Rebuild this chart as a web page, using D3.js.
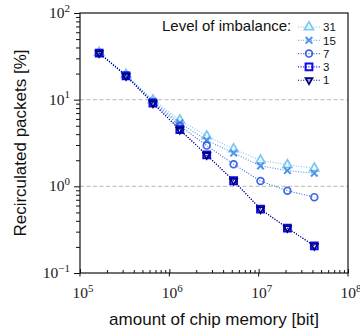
<!DOCTYPE html>
<html>
<head>
<meta charset="utf-8">
<script src="https://cdn.jsdelivr.net/npm/d3@7"></script>
<style>
  html, body { margin: 0; padding: 0; background: #fff; }
  svg { display: block; }
</style>
</head>
<body>
<svg id="chart" width="360" height="335"></svg>
<script>
// Memory sizes: 163840 bits doubled eight times
const memoryBits = [163840, 327680, 655360, 1310720, 2621440, 5242880, 10485760, 20971520, 41943040];

// Recirculated packets [%] per level of imbalance
const imbalanceLevels = ["31", "15", "7", "3", "1"];
const recirc31 = [35.0, 19.5, 9.9, 5.8, 3.8, 2.7, 2.0, 1.77, 1.62];
const recirc15 = [34.8, 19.2, 9.6, 5.4, 3.4, 2.42, 1.72, 1.52, 1.42];
const recirc7  = [34.6, 19.0, 9.4, 5.0, 2.95, 1.8, 1.15, 0.89, 0.75];
const recirc3  = [34.5, 18.8, 9.1, 4.5, 2.3, 1.16, 0.545, 0.33, 0.206];
const recirc1  = [34.5, 18.8, 9.1, 4.5, 2.3, 1.16, 0.545, 0.33, 0.206];

const xDecades = [1e5, 1e6, 1e7, 1e8];
const yDecades = [1e-1, 1e0, 1e1, 1e2];
const xExponents = ["5", "6", "7", "8"];
const yExponents = ["−1", "0", "1", "2"];

const seriesValues = [recirc31, recirc15, recirc7, recirc3, recirc1];
const seriesColors = ["#7fc8f2", "#4f94ea", "#3a66e0", "#0b0bea", "#00007e"];
const seriesMarkers = ["triangleUp", "cross", "circle", "square", "triangleDown"];

const svg = d3.select("#chart");
const plotL = 80, plotR = 348, plotT = 13, plotB = 273;

const x = d3.scaleLog().domain([1e5, 1e8]).range([plotL, plotR]);
const y = d3.scaleLog().domain([0.1, 100]).range([plotB, plotT]);

// Minor ticks 2..9 within each decade
function minorTicks(decades) {
  const out = [];
  for (let i = 0; i < decades.length - 1; i++) {
    for (let k = 2; k <= 9; k++) out.push(decades[i] * k);
  }
  return out;
}

// Horizontal dashed grid at inner decades
svg.append("g").selectAll("line")
  .data([1e0, 1e1])
  .join("line")
  .attr("x1", plotL).attr("x2", plotR)
  .attr("y1", d => y(d)).attr("y2", d => y(d))
  .attr("stroke", "#c4c4c4")
  .attr("stroke-width", 1.1)
  .attr("stroke-dasharray", "4,2.5");

// Axis ticks
const xMinor = d3.axisBottom(x).tickValues(minorTicks(xDecades)).tickSize(-3).tickFormat("");
const xMajor = d3.axisBottom(x).tickValues(xDecades).tickSize(-4).tickFormat("");
const yMinor = d3.axisLeft(y).tickValues(minorTicks(yDecades)).tickSize(4).tickFormat("");
const yMajor = d3.axisLeft(y).tickValues(yDecades).tickSize(6).tickFormat("");

[xMinor, xMajor].forEach(ax => {
  const g = svg.append("g").attr("transform", `translate(0,${plotB})`).call(ax);
  g.select(".domain").remove();
  g.selectAll("line").attr("stroke", "#111").attr("stroke-width", 1);
});
svg.append("g").attr("transform", `translate(0,${plotB})`)
  .selectAll("line").data(xDecades).join("line")
  .attr("x1", d => x(d)).attr("x2", d => x(d))
  .attr("y1", 0).attr("y2", 3.5)
  .attr("stroke", "#111").attr("stroke-width", 1);
[yMinor, yMajor].forEach(ax => {
  const g = svg.append("g").attr("transform", `translate(${plotL},0)`).call(ax);
  g.select(".domain").remove();
  g.selectAll("line").attr("stroke", "#111").attr("stroke-width", 1);
});

// Frame
svg.append("rect")
  .attr("x", plotL).attr("y", plotT)
  .attr("width", plotR - plotL).attr("height", plotB - plotT)
  .attr("fill", "none").attr("stroke", "#111").attr("stroke-width", 1.2);

// Tick labels with superscript exponents
const serif = "'Liberation Serif', 'DejaVu Serif', serif";
const xl = svg.append("g").selectAll("text").data(xDecades).join("text")
  .attr("x", d => x(d) + 3).attr("y", 298)
  .attr("text-anchor", "middle")
  .attr("font-family", serif).attr("font-size", 15.5).attr("fill", "#222");
xl.append("tspan").text("10");
xl.append("tspan").attr("dy", -6.5).attr("font-size", 11).text((d, i) => xExponents[i]);

const yl = svg.append("g").selectAll("text").data(yDecades).join("text")
  .attr("x", 70).attr("y", d => y(d) + 5)
  .attr("text-anchor", "end")
  .attr("font-family", serif).attr("font-size", 15.5).attr("fill", "#222");
yl.append("tspan").text("10");
yl.append("tspan").attr("dy", -6.5).attr("font-size", 11).text((d, i) => yExponents[i]);

// Axis titles
const sans = "'Liberation Sans', Arial, sans-serif";
svg.append("text")
  .attr("x", (plotL + plotR) / 2).attr("y", 325)
  .attr("text-anchor", "middle")
  .attr("font-family", sans).attr("font-size", 17).attr("fill", "#111")
  .text("amount of chip memory [bit]");
svg.append("text")
  .attr("transform", `translate(26,${(plotT + plotB) / 2}) rotate(-90)`)
  .attr("text-anchor", "middle")
  .attr("font-family", sans).attr("font-size", 17).attr("fill", "#111")
  .text("Recirculated packets [%]");

// Marker drawing
function drawMarker(g, kind, color) {
  if (kind === "triangleUp") {
    g.append("path").attr("d", d3.symbol(d3.symbolTriangle, 34)())
      .attr("fill", "none").attr("stroke", color).attr("stroke-width", 1.8);
  } else if (kind === "triangleDown") {
    g.append("path").attr("d", d3.symbol(d3.symbolTriangle, 20)())
      .attr("transform", "rotate(180)")
      .attr("fill", "none").attr("stroke", color).attr("stroke-width", 1.8);
  } else if (kind === "cross") {
    g.append("path").attr("d", "M-3.3,-3.3L3.3,3.3M-3.3,3.3L3.3,-3.3")
      .attr("fill", "none").attr("stroke", color).attr("stroke-width", 2);
  } else if (kind === "circle") {
    g.append("circle").attr("r", 3.4)
      .attr("fill", "none").attr("stroke", color).attr("stroke-width", 1.7);
  } else if (kind === "square") {
    g.append("path").attr("d", d3.symbol(d3.symbolSquare, 46)())
      .attr("fill", "none").attr("stroke", color).attr("stroke-width", 2);
  }
}

const line = d3.line().x(d => x(d[0])).y(d => y(d[1]));

seriesValues.forEach((vals, si) => {
  const pts = memoryBits.map((m, i) => [m, vals[i]]);
  const g = svg.append("g");
  g.append("path").datum(pts)
    .attr("d", line)
    .attr("fill", "none")
    .attr("stroke", seriesColors[si])
    .attr("stroke-width", 1.1)
    .attr("stroke-dasharray", "1,1.6");
  pts.forEach(p => {
    const mg = g.append("g").attr("transform", `translate(${x(p[0])},${y(p[1])})`);
    drawMarker(mg, seriesMarkers[si], seriesColors[si]);
  });
});

// Legend
svg.append("text")
  .attr("x", 162).attr("y", 31)
  .attr("font-family", sans).attr("font-size", 15).attr("fill", "#111")
  .text("Level of imbalance:");
imbalanceLevels.forEach((lab, i) => {
  const cy = 27 + i * 13.3;
  const g = svg.append("g");
  g.append("line").attr("x1", 298).attr("x2", 320).attr("y1", cy).attr("y2", cy)
    .attr("stroke", seriesColors[i]).attr("stroke-width", 1.1)
    .attr("stroke-dasharray", "1,1.6");
  drawMarker(g.append("g").attr("transform", `translate(309,${cy})`), seriesMarkers[i], seriesColors[i]);
  g.append("text").attr("x", 323).attr("y", cy + 4.2)
    .attr("font-family", sans).attr("font-size", 11.5).attr("fill", "#111")
    .text(lab);
});
</script>
</body>
</html>
